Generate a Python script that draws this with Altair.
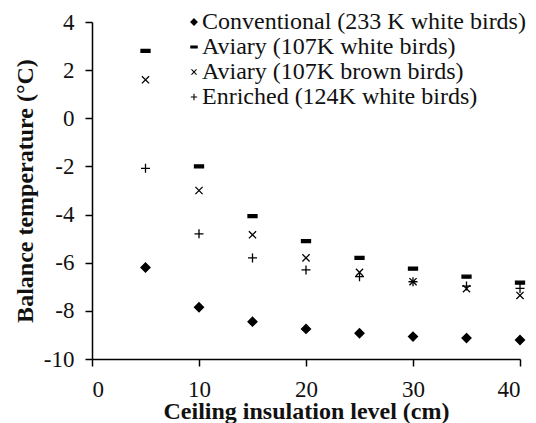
import altair as alt
import pandas as pd

insulation = [5, 10, 15, 20, 25, 30, 35, 40]
series_names = [
    "Conventional (233 K white birds)",
    "Aviary (107K white birds)",
    "Aviary (107K brown birds)",
    "Enriched (124K white birds)",
]
conventional = [-6.2, -7.85, -8.45, -8.75, -8.93, -9.07, -9.13, -9.21]
aviary_white = [2.8, -2.0, -4.06, -5.1, -5.8, -6.25, -6.58, -6.83]
aviary_brown = [1.6, -3.0, -4.84, -5.8, -6.4, -6.79, -7.08, -7.36]
enriched = [-2.08, -4.8, -5.8, -6.3, -6.58, -6.79, -6.97, -7.07]

rows = []
for name, vals in zip(series_names, [conventional, aviary_white, aviary_brown, enriched]):
    for x, y in zip(insulation, vals):
        rows.append({"series": name, "insulation": x, "temp": y})
df = pd.DataFrame(rows)

shapes = [
    "M0,-1L1,0L0,1L-1,0Z",
    "M-1,-0.33L1,-0.33L1,0.33L-1,0.33Z",
    "M-0.8,-0.8L0.8,0.8M-0.8,0.8L0.8,-0.8",
    "M-1,0L1,0M0,-1L0,1",
]
fills = ["black", "black", "transparent", "transparent"]

FONT = "Liberation Serif"
leg = alt.Legend(
    title=None, orient="none", legendX=90, legendY=-12, padding=0,
    labelFont=FONT, labelFontSize=24, labelColor="#111", labelLimit=450,
    symbolSize=40, symbolStrokeWidth=1.1, rowPadding=1, labelOffset={"expr": "-4"},
)

chart = alt.Chart(df).mark_point(filled=False, stroke="black", strokeWidth=1.3, opacity=1).encode(
    x=alt.X("insulation:Q", scale=alt.Scale(domain=[0, 40], nice=False),
            axis=alt.Axis(values=[0, 10, 20, 30, 40], title="Ceiling insulation level (cm)",
                          labelPadding=12, titleBaseline="alphabetic", titleY=59)),
    y=alt.Y("temp:Q", scale=alt.Scale(domain=[-10, 4], nice=False),
            axis=alt.Axis(values=list(range(-10, 5, 2)), title="Balance temperature (°C)",
                          labelExpr="replace(datum.label, '\u2212', '-')",
                          labelPadding=11, titlePadding=6)),
    shape=alt.Shape("series:N", scale=alt.Scale(domain=series_names, range=shapes), legend=leg),
    fill=alt.Fill("series:N", scale=alt.Scale(domain=series_names, range=fills), legend=leg),
    size=alt.value(81),
).properties(
    width=428, height=337,
    autosize=alt.AutoSizeParams(type="none"),
    padding={"left": 84, "top": 14, "right": 8, "bottom": 64},
).configure_view(stroke=None).configure_axis(
    grid=False, domainColor="black", domainWidth=1.5, tickColor="black", tickWidth=1.5,
    tickSize=7, labelFont=FONT, labelFontSize=23, labelColor="#111",
    titleFont=FONT, titleFontSize=24, titleFontWeight="bold", titleColor="#111",
)

chart.save("out.html", embed_options={"renderer": "svg", "actions": False})
